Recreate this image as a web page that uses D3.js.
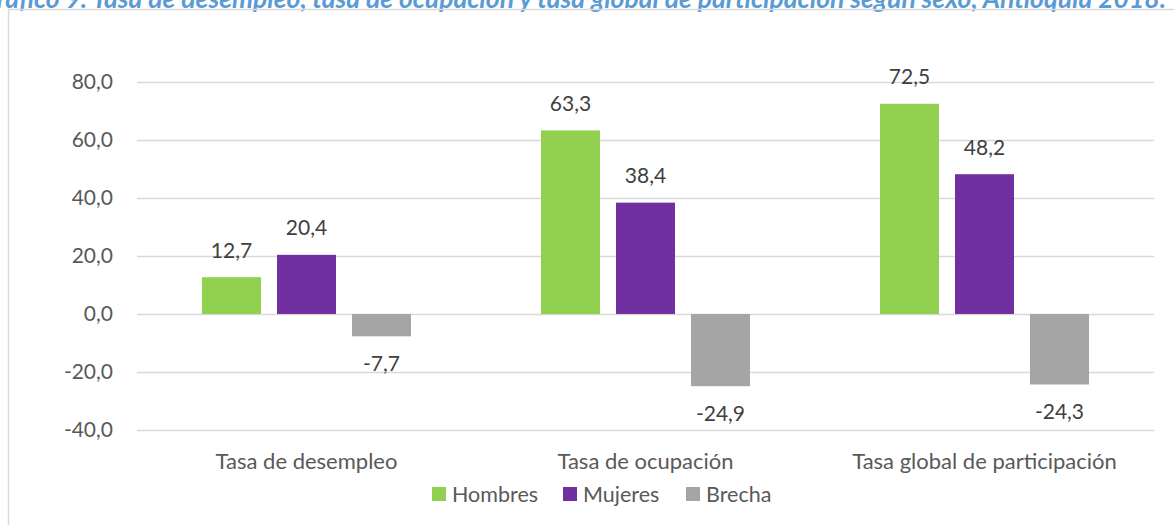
<!DOCTYPE html>
<html>
<head>
<meta charset="utf-8">
<script src="https://cdn.jsdelivr.net/npm/d3@7"></script>
<style>
  html, body { margin: 0; padding: 0; background: #fff; overflow: hidden; }
  svg { display: block; }
</style>
</head>
<body>
<svg id="chart" width="1174" height="525"></svg>
<script>
const categories = ["Tasa de desempleo", "Tasa de ocupación", "Tasa global de participación"];
const seriesNames = ["Hombres", "Mujeres", "Brecha"];
const hombres = [12.7, 63.3, 72.5];
const mujeres = [20.4, 38.4, 48.2];
const brecha = [-7.7, -24.9, -24.3];
const yTicks = [-40, -20, 0, 20, 40, 60, 80];
const colors = ["#92D050", "#7030A0", "#A5A5A5"];
const titleText = "Gráfico 9. Tasa de desempleo, tasa de ocupación y tasa global de participación según sexo, Antioquia 2018.";

const seriesValues = [hombres, mujeres, brecha];
const FONT = "Lato, 'Open Sans', sans-serif";
const svg = d3.select("#chart");

// title (clipped at the top, as in the reference)
svg.append("text")
  .attr("x", 1166).attr("y", 8)
  .attr("text-anchor", "end")
  .attr("font-family", FONT)
  .attr("font-size", 26.5)
  .attr("font-weight", "bold")
  .attr("font-style", "italic")
  .attr("fill", "#5B9BD5")
  .text(titleText);

// chart frame
svg.append("rect")
  .attr("x", 8.5).attr("y", 9.5)
  .attr("width", 1200).attr("height", 600)
  .attr("fill", "none")
  .attr("stroke", "#D9D9D9")
  .attr("stroke-width", 1.5);

const x0 = d3.scaleBand().domain(categories).range([137, 1154]);
const x1 = d3.scaleBand().domain(seriesNames).range([65, 274]).paddingInner(0.2133);
const y = d3.scaleLinear().domain([-40, 80]).range([430, 82]);

// gridlines
svg.append("g").selectAll("line").data(yTicks).join("line")
  .attr("x1", 137).attr("x2", 1154)
  .attr("y1", d => Math.round(y(d)) + 0.5).attr("y2", d => Math.round(y(d)) + 0.5)
  .attr("stroke", "#D9D9D9").attr("stroke-width", 1.5);

// y axis labels
const fmt = v => d3.format(".1f")(v).replace(".", ",").replace("−", "-");
svg.append("g").selectAll("text").data(yTicks).join("text")
  .attr("x", 113).attr("y", d => y(d))
  .attr("dy", "0.35em")
  .attr("text-anchor", "end")
  .attr("font-family", FONT).attr("font-size", 21)
  .attr("fill", "#595959")
  .text(d => fmt(d));

// bars
const groups = svg.append("g").selectAll("g").data(categories).join("g")
  .attr("transform", c => `translate(${x0(c)},0)`);

groups.each(function(c, ci) {
  const g = d3.select(this);
  const data = seriesNames.map((s, si) => ({ s, si, v: seriesValues[si][ci] }));
  g.selectAll("rect").data(data).join("rect")
    .attr("x", d => x1(d.s))
    .attr("width", x1.bandwidth())
    .attr("y", d => y(Math.max(0, d.v)))
    .attr("height", d => Math.abs(y(d.v) - y(0)))
    .attr("fill", d => colors[d.si]);
  g.selectAll("text").data(data).join("text")
    .attr("x", d => x1(d.s) + x1.bandwidth() / 2)
    .attr("y", d => d.v >= 0 ? y(d.v) - 27 : y(d.v) + 27)
    .attr("dy", "0.35em")
    .attr("text-anchor", "middle")
    .attr("font-family", FONT).attr("font-size", 21)
    .attr("fill", "#404040")
    .text(d => fmt(d.v));
});

// category labels
svg.append("g").selectAll("text").data(categories).join("text")
  .attr("x", c => x0(c) + x0.bandwidth() / 2)
  .attr("y", 461).attr("dy", "0.35em")
  .attr("text-anchor", "middle")
  .attr("font-family", FONT).attr("font-size", 22)
  .attr("fill", "#595959")
  .text(c => c);

// legend
const legendX = [432, 563, 686];
const legend = svg.append("g").selectAll("g").data(seriesNames).join("g")
  .attr("transform", (s, i) => `translate(${legendX[i]},487)`);
legend.append("rect").attr("width", 14).attr("height", 14)
  .attr("fill", (s, i) => colors[i]);
legend.append("text").attr("x", 20).attr("y", 7).attr("dy", "0.35em")
  .attr("font-family", FONT).attr("font-size", 21.5)
  .attr("fill", "#595959")
  .text(s => s);
</script>
</body>
</html>
